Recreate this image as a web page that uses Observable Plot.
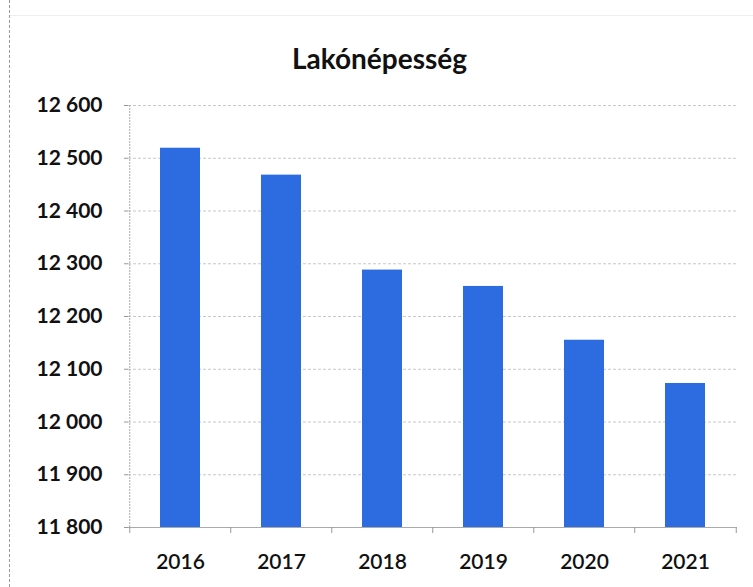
<!DOCTYPE html>
<html>
<head>
<meta charset="utf-8">
<script src="https://cdn.jsdelivr.net/npm/d3@7"></script>
<script src="https://cdn.jsdelivr.net/npm/@observablehq/plot@0.6"></script>
<style>
  html, body { margin: 0; padding: 0; background: #fff; }
  #wrap { position: relative; width: 753px; height: 587px; overflow: hidden; }
  #border { position: absolute; left: 9px; top: 0; height: 587px; border-left: 1px dashed #999; }
  #topline { position: absolute; left: 10px; right: 0; top: 15px; border-top: 1px solid #eee; }
  #title { height: 80px; box-sizing: border-box; padding-top: 41px; text-align: center;
           font-family: Lato, "Open Sans", sans-serif; font-weight: bold; font-size: 28px; color: #111; padding-left: 6px; }
</style>
</head>
<body>
<div id="wrap">
  <div id="border"></div>
  <div id="topline"></div>
  <div id="title">Lakónépesség</div>
  <div id="chart"></div>
</div>
<script>
const titleText = "Lakónépesség";
const years = ["2016", "2017", "2018", "2019", "2020", "2021"];
const population = [12519, 12468, 12288, 12257, 12155, 12073];
const yMin = 11800;
const yMax = 12600;
const yTicks = [11800, 11900, 12000, 12100, 12200, 12300, 12400, 12500, 12600];

const data = years.map((y, i) => ({year: y, value: population[i]}));
const fmt = d => String(d).replace(/\B(?=(\d{3})+(?!\d))/g, " ");

const width = 753, mL = 128, mR = 16;
const step = (width - mL - mR) / years.length;

const chart = Plot.plot({
  width: width,
  height: 507,
  marginTop: 25,
  marginBottom: 60,
  marginLeft: mL,
  marginRight: mR,
  style: {fontFamily: "Lato, 'Open Sans', sans-serif", color: "#111", background: "transparent"},
  x: {type: "band", domain: years, paddingInner: 0.6, paddingOuter: 0.3},
  y: {domain: [yMin, yMax]},
  marks: [
    Plot.gridY(yTicks, {stroke: "#c8c8c8", strokeOpacity: 1, strokeDasharray: "3,2"}),
    Plot.barY(data, {x: "year", y1: () => yMin, y2: "value", fill: "#2c6be0"}),
    Plot.ruleY([yMin], {stroke: "#aaa"}),
    Plot.ruleX([years[0]], {dx: -step / 2, stroke: "#aaa", strokeDasharray: "2,1"}),
    Plot.axisY(yTicks, {tickSize: 4, tickPadding: 22, tickFormat: fmt, fontSize: 21, fontWeight: "bold", stroke: "#999", label: null}),
    Plot.axisX(years, {tickSize: 6, dx: -step / 2, tickFormat: () => "", stroke: "#999", label: null}),
    Plot.axisX([years[years.length - 1]], {tickSize: 6, dx: step / 2, tickFormat: () => "", stroke: "#999", label: null}),
    Plot.axisX(years, {tickSize: 0, tickPadding: 27, fontSize: 21, fontWeight: "600", label: null})
  ]
});
document.getElementById("chart").appendChild(chart);
</script>
</body>
</html>
